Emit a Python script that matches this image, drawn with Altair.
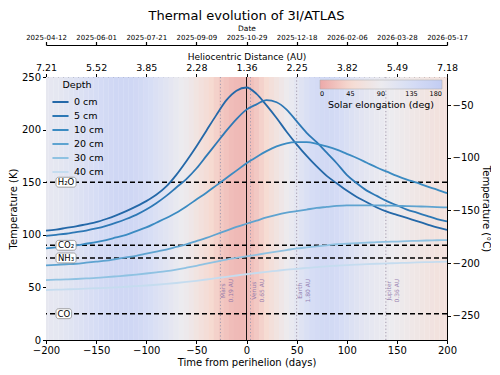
import json
import altair as alt
import pandas as pd

# ---------------- data ----------------
days = list(range(-200, 201, 10))
depths = ["0 cm", "5 cm", "10 cm", "20 cm", "30 cm", "40 cm"]
temp_0cm = [104, 105, 106.5, 108, 110, 112, 115, 118.5, 122.5, 127,
            132, 138, 146, 157, 170, 184, 199, 214, 228, 237,
            240,
            234, 223, 211, 198, 186, 175, 165, 156, 149,
            142, 136, 131, 126, 122, 119, 116, 113, 110, 107,
            104.7]
temp_5cm = [99, 100, 101, 102.5, 104, 106, 108.5, 111.5, 115, 119,
            124, 130, 137, 145, 153, 163, 175, 187, 199, 210,
            219,
            224, 228, 226, 219, 208, 197, 188, 178, 168,
            157, 149, 142, 137, 132, 128, 124, 121, 118, 115,
            112.7]
temp_10cm = [87, 88, 89, 90, 91.5, 93, 95, 97.5, 100, 103.5,
             107, 111.5, 116, 121, 127, 133.5, 140, 147, 154, 161,
             168,
             174, 179.5, 184, 187, 188, 188, 186.5, 184, 181,
             177, 173, 168.5, 164, 160, 156, 152.5, 149.5, 146, 143,
             139.6]
temp_20cm = [71, 71.5, 72, 72.5, 73.5, 74.5, 75.5, 77, 78.5, 80,
             82, 84, 86, 88.5, 91, 94, 97, 100.5, 104, 107.5,
             110.5,
             113.5, 116.5, 119, 121, 122.5, 124, 125.5, 126.5, 127.5,
             128, 128, 128, 128, 127.8, 127.5, 127.3, 127, 126.7, 126.3,
             126]
temp_30cm = [57, 57.3, 57.6, 58, 58.5, 59, 59.7, 60.5, 61.3, 62.2,
             63.2, 64.3, 65.5, 67, 68.7, 70.5, 72.5, 74.5, 76.5, 78,
             79.5,
             81, 82.5, 84, 85.5, 87, 88, 89, 90, 91,
             91.5, 92, 92.5, 93, 93.3, 93.6, 94, 94.3, 94.6, 94.8,
             95]
temp_40cm = [47.5, 47.8, 48.1, 48.4, 48.8, 49.2, 49.6, 50.1, 50.6, 51.2,
             51.8, 52.5, 53.3, 54.2, 55.2, 56.3, 57.5, 58.8, 60, 61.3,
             62.5,
             63.7, 64.8, 65.8, 66.8, 67.7, 68.5, 69.3, 70, 70.6,
             71.2, 71.7, 72.1, 72.5, 72.8, 73.1, 73.4, 73.7, 74, 74.2,
             74.5]

elong_days = list(range(-200, 201, 5))
elongation = [100, 102, 104, 107, 110, 114, 118, 122, 127, 131,
              136, 140, 144, 147, 150, 151, 151, 150, 147, 143,
              138, 132, 125, 118, 112, 105, 98, 91, 85, 77,
              69, 60, 52, 44, 36, 29, 23, 18, 15, 14,
              16,
              21, 28, 37, 47, 57, 67, 77, 87, 97, 107,
              117, 126, 134, 140, 144, 145, 143, 139, 134, 128,
              122, 116, 111, 107, 103, 99, 96, 93, 90, 87,
              84, 81, 78, 75, 72, 69, 66, 64, 62, 60]

species = ["H₂O", "CO₂", "NH₃", "CO"]
species_temp = [150, 90, 78, 25]

planets = ["Mars", "Venus", "Earth", "Jupiter"]
planet_days = [-26, 4, 50, 139]
planet_dist = ["0.19 AU", "0.65 AU", "1.80 AU", "0.36 AU"]

tick_days = [-200, -150, -100, -50, 0, 50, 100, 150, 200]
dist_labels = ["7.21", "5.52", "3.85", "2.28", "1.36", "2.25", "3.82", "5.49", "7.18"]
date_labels = ["2025-04-12", "2025-06-01", "2025-07-21", "2025-09-09", "2025-10-29",
               "2025-12-18", "2026-02-06", "2026-03-28", "2026-05-17"]
kelvin_ticks = [0, 50, 100, 150, 200, 250]
celsius_ticks = [-250, -200, -150, -100, -50]
elong_ticks = [0, 45, 90, 135, 180]

# ---------------- styles ----------------
line_colors = ["#2468a8", "#2d78b5", "#3b8bc2", "#5ea3d0", "#8fc2e2", "#c5dcef"]
elong_colors = ["#eca9a9", "#f6dbd2", "#ecebef", "#d6ddf5", "#c2ccf2"]
FONT = "DejaVu Sans"

X_SCALE = alt.Scale(domain=[-200, 200], nice=False, zero=False)
Y_SCALE = alt.Scale(domain=[0, 250], nice=False, zero=False)

common_axis = dict(grid=False, domain=True, domainColor="black", domainWidth=1,
                   ticks=True, tickColor="black", tickWidth=1,
                   labelColor="black", titleColor="black",
                   titleFontWeight="normal", labelFont=FONT, titleFont=FONT,
                   tickSize=3.5, labelFlush=False)

X_AXIS = alt.Axis(values=tick_days, title="Time from perihelion (days)",
                  labelFontSize=10, titleFontSize=10, labelPadding=2, titlePadding=2,
                  **common_axis)
Y_AXIS = alt.Axis(values=kelvin_ticks, title="Temperature (K)",
                  labelFontSize=10, titleFontSize=10, labelPadding=2, titlePadding=3,
                  **common_axis)


def xenc(field):
    return alt.X(f"{field}:Q", scale=X_SCALE, axis=X_AXIS)


def yenc(field):
    return alt.Y(f"{field}:Q", scale=Y_SCALE, axis=Y_AXIS)


# ---------------- frames ----------------
bg_df = pd.DataFrame({"day": elong_days, "elong": elongation})

rows = []
for name, vals in zip(depths, [temp_0cm, temp_5cm, temp_10cm, temp_20cm, temp_30cm, temp_40cm]):
    for d, v in zip(days, vals):
        rows.append({"day": d, "depth": name, "temp": v})
lines_df = pd.DataFrame(rows)

spec_df = pd.DataFrame({"name": species, "temp": species_temp})
box_right = {"H₂O": -170, "CO₂": -170, "NH₃": -170, "CO": -174.5}
spec_df["bx0"] = -190.0
spec_df["bx1"] = spec_df["name"].map(box_right)
spec_df["tx"] = (spec_df["bx0"] + spec_df["bx1"]) / 2
spec_df["by0"] = spec_df["temp"] - 4.7
spec_df["by1"] = spec_df["temp"] + 4.7

planet_df = pd.DataFrame({"day": planet_days, "name": planets, "dist": planet_dist})
planet_df["label"] = planet_df["name"] + "\n" + planet_df["dist"]
planet_df["ly"] = 44

peri_df = pd.DataFrame({"day": [0]})

# ---------------- layers ----------------
background = alt.Chart(bg_df).transform_calculate(
    x0="datum.day - 2.6", x1="datum.day + 2.6"
).mark_rect(clip=True, strokeWidth=0).encode(
    x=xenc("x0"), x2="x1:Q",
    fill=alt.Fill("elong:Q",
                  scale=alt.Scale(domain=elong_ticks, range=elong_colors, interpolate="rgb"),
                  legend=alt.Legend(title="Solar elongation (deg)", orient="none",
                                    legendX=274, legendY=3, direction="horizontal",
                                    gradientLength=122, gradientThickness=9,
                                    values=elong_ticks, labelFontSize=6.5,
                                    titleFontSize=9.5, titleFontWeight="normal",
                                    titleOrient="bottom", titleAnchor="middle",
                                    labelOverlap=False, gradientStrokeColor="#aaaaaa",
                                    gradientStrokeWidth=0.5, labelColor="black",
                                    titleColor="black", labelFont=FONT, titleFont=FONT,
                                    titlePadding=2)),
)

hrules = alt.Chart(spec_df).mark_rule(color="black", strokeDash=[5, 3], strokeWidth=1.4).encode(
    y=yenc("temp")
)

peri = alt.Chart(peri_df).mark_rule(color="black", strokeWidth=0.9).encode(x=xenc("day"))

planet_rules = alt.Chart(planet_df).mark_rule(color="#a49aae", strokeDash=[1.2, 2.2],
                                              strokeWidth=1).encode(x=xenc("day"))

planet_text = alt.Chart(planet_df).mark_text(
    angle=270, align="center", baseline="top", dx=3, fontSize=6,
    color="#8a70a8", opacity=0.85, lineBreak="\n", font=FONT
).encode(x=xenc("day"), y=yenc("ly"), text="label:N")

curves = alt.Chart(lines_df).mark_line(strokeWidth=1.8, interpolate="monotone").encode(
    x=xenc("day"), y=yenc("temp"),
    stroke=alt.Stroke("depth:N", scale=alt.Scale(domain=depths, range=line_colors),
                      sort=depths,
                      legend=alt.Legend(title="Depth", orient="none", legendX=5, legendY=3,
                                        symbolType="stroke", symbolSize=260,
                                        symbolStrokeWidth=2, labelFontSize=9.5,
                                        titleFontSize=9.5, titleFontWeight="normal",
                                        rowPadding=0, titleAnchor="middle",
                                        labelColor="black", titleColor="black",
                                        labelFont=FONT, titleFont=FONT, titlePadding=3)),
    detail="depth:N",
)

boxes = alt.Chart(spec_df).mark_rect(fill="white", stroke="#8c8c8c", strokeWidth=0.8,
                                     cornerRadius=2.5).encode(
    x=xenc("bx0"), x2="bx1:Q", y=yenc("by0"), y2="by1:Q"
)

box_text = alt.Chart(spec_df).mark_text(fontSize=8.5, color="black", font=FONT).encode(
    x=xenc("tx"), y=yenc("temp"), text="name:N"
)

main = alt.layer(background, hrules, planet_rules, peri, planet_text, curves, boxes, box_text)

# ---------------- auxiliary axes ----------------
aux_df = pd.DataFrame({"ax": [-200, 200], "ay": [-273.15, -23.15]})
dist_expr = json.dumps(dist_labels) + "[round((datum.value + 200) / 50)]"
date_expr = json.dumps(date_labels) + "[round((datum.value + 200) / 50)]"

dist_layer = alt.Chart(aux_df).mark_point(opacity=0).encode(
    x=alt.X("ax:Q", scale=alt.Scale(domain=[-200, 200], nice=False, zero=False),
            axis=alt.Axis(orient="top", values=tick_days, labelExpr=dist_expr,
                          title="Heliocentric Distance (AU)", labelFontSize=9.5,
                          titleFontSize=9, labelPadding=1.5, titlePadding=1,
                          **common_axis)),
    y=alt.Y("ay:Q", scale=alt.Scale(domain=[-273.15, -23.15], nice=False, zero=False),
            axis=alt.Axis(orient="right", values=celsius_ticks, title="Temperature (°C)",
                          labelFontSize=10, titleFontSize=10, labelPadding=1.5,
                          titlePadding=1, **common_axis)),
)

date_axis_style = {**common_axis, "tickSize": 3.5, "domainWidth": 1.2, "tickWidth": 1.2}
date_layer = alt.Chart(aux_df).mark_point(opacity=0).encode(
    x=alt.X("ax:Q", scale=alt.Scale(domain=[-200, 200], nice=False, zero=False),
            axis=alt.Axis(orient="top", offset=32, values=tick_days, labelExpr=date_expr,
                          title="Date", labelFontSize=7, titleFontSize=7.5,
                          labelPadding=1, titlePadding=1.5,
                          **date_axis_style)),
    y=alt.Y("ay:Q", scale=alt.Scale(domain=[-273.15, -23.15], nice=False, zero=False),
            axis=None),
)

chart = alt.layer(main, dist_layer, date_layer).resolve_scale(
    x="independent", y="independent"
).properties(
    width=401, height=263,
    title=alt.TitleParams("Thermal evolution of 3I/ATLAS", fontSize=13, fontWeight="normal",
                          font=FONT, color="black", offset=1, anchor="middle"),
).configure_view(stroke="black", strokeWidth=1).configure(
    font=FONT, padding={"left": 0, "top": 2, "right": 0, "bottom": 0}
)

chart.save("out.html", embed_options={"renderer": "svg", "actions": False})
